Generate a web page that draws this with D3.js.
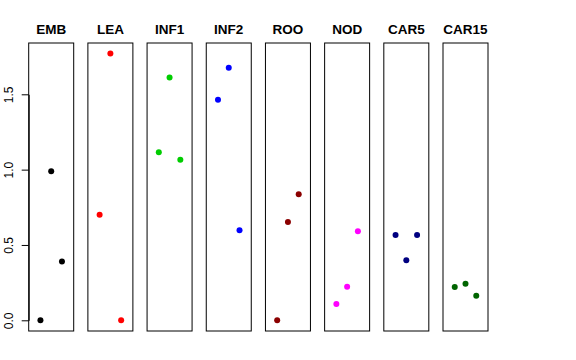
<!DOCTYPE html>
<html>
<head>
<meta charset="utf-8">
<script src="https://cdn.jsdelivr.net/npm/d3@7/dist/d3.min.js"></script>
<style>
  html, body { margin: 0; padding: 0; background: #fff; }
  svg { display: block; }
</style>
</head>
<body>
<div id="chart"></div>
<script>
// ---- data ----
const categories = ["EMB", "LEA", "INF1", "INF2", "ROO", "NOD", "CAR5", "CAR15"];
const colors = ["#000000", "#FF0000", "#00CD00", "#0000FF", "#8B0000", "#FF00FF", "#000080", "#006400"];
const valEMB   = [0.00, 0.99, 0.39];
const valLEA   = [0.70, 1.77, 0.00];
const valINF1  = [1.115, 1.612, 1.066];
const valINF2  = [1.464, 1.676, 0.597];
const valROO   = [0.00, 0.652, 0.836];
const valNOD   = [0.108, 0.223, 0.591];
const valCAR5  = [0.566, 0.398, 0.566];
const valCAR15 = [0.221, 0.243, 0.163];
const seriesValues = [valEMB, valLEA, valINF1, valINF2, valROO, valNOD, valCAR5, valCAR15];
const yTicks = [0, 0.5, 1.0, 1.5];
const yTickLabels = ["0.0", "0.5", "1.0", "1.5"];
const replicates = [0, 1, 2];

// ---- layout ----
const W = 576, H = 360;
const panelW = 45;
const boxTop = 43, boxBottom = 331;

const svg = d3.select("#chart").append("svg")
  .attr("width", W).attr("height", H);

const xPanel = d3.scaleLinear().domain([0, categories.length - 1]).range([28.7, 443]);
const y = d3.scaleLinear().domain([0, 1.5]).range([320.3, 94.3]);
const xIn = d3.scaleLinear().domain([-1.09, 3.09]).range([0, panelW]);

categories.forEach((cat, i) => {
  const g = svg.append("g").attr("transform", `translate(${xPanel(i)},0)`);
  g.append("rect")
    .attr("x", 0).attr("y", boxTop)
    .attr("width", panelW).attr("height", boxBottom - boxTop)
    .attr("fill", "none").attr("stroke", "#000").attr("stroke-width", 1);
  g.append("text")
    .attr("x", panelW / 2).attr("y", 34)
    .attr("text-anchor", "middle")
    .attr("font-family", "Liberation Sans, Arial, sans-serif")
    .attr("font-weight", "bold")
    .attr("font-size", "13.5px")
    .text(cat);
  g.selectAll("circle")
    .data(replicates.map(r => ({ r, v: seriesValues[i][r] })))
    .join("circle")
    .attr("cx", d => xIn(d.r))
    .attr("cy", d => y(d.v))
    .attr("r", 3)
    .attr("fill", colors[i]);
});

// y axis on first panel
const axis = d3.axisLeft(y)
  .tickValues(yTicks)
  .tickFormat((d, i) => yTickLabels[i])
  .tickSize(7)
  .tickSizeOuter(0);
const ag = svg.append("g")
  .attr("transform", `translate(${xPanel(0)},0)`)
  .call(axis);
ag.select(".domain").attr("stroke", "#000");
ag.selectAll(".tick line").attr("stroke", "#000");
ag.selectAll(".tick text")
  .attr("font-family", "Liberation Sans, Arial, sans-serif")
  .attr("font-size", "12px")
  .attr("fill", "#000")
  .attr("text-anchor", "middle")
  .attr("dy", 0)
  .attr("x", 0).attr("y", 0)
  .attr("transform", "translate(-15.5,0) rotate(-90)");
</script>
</body>
</html>
